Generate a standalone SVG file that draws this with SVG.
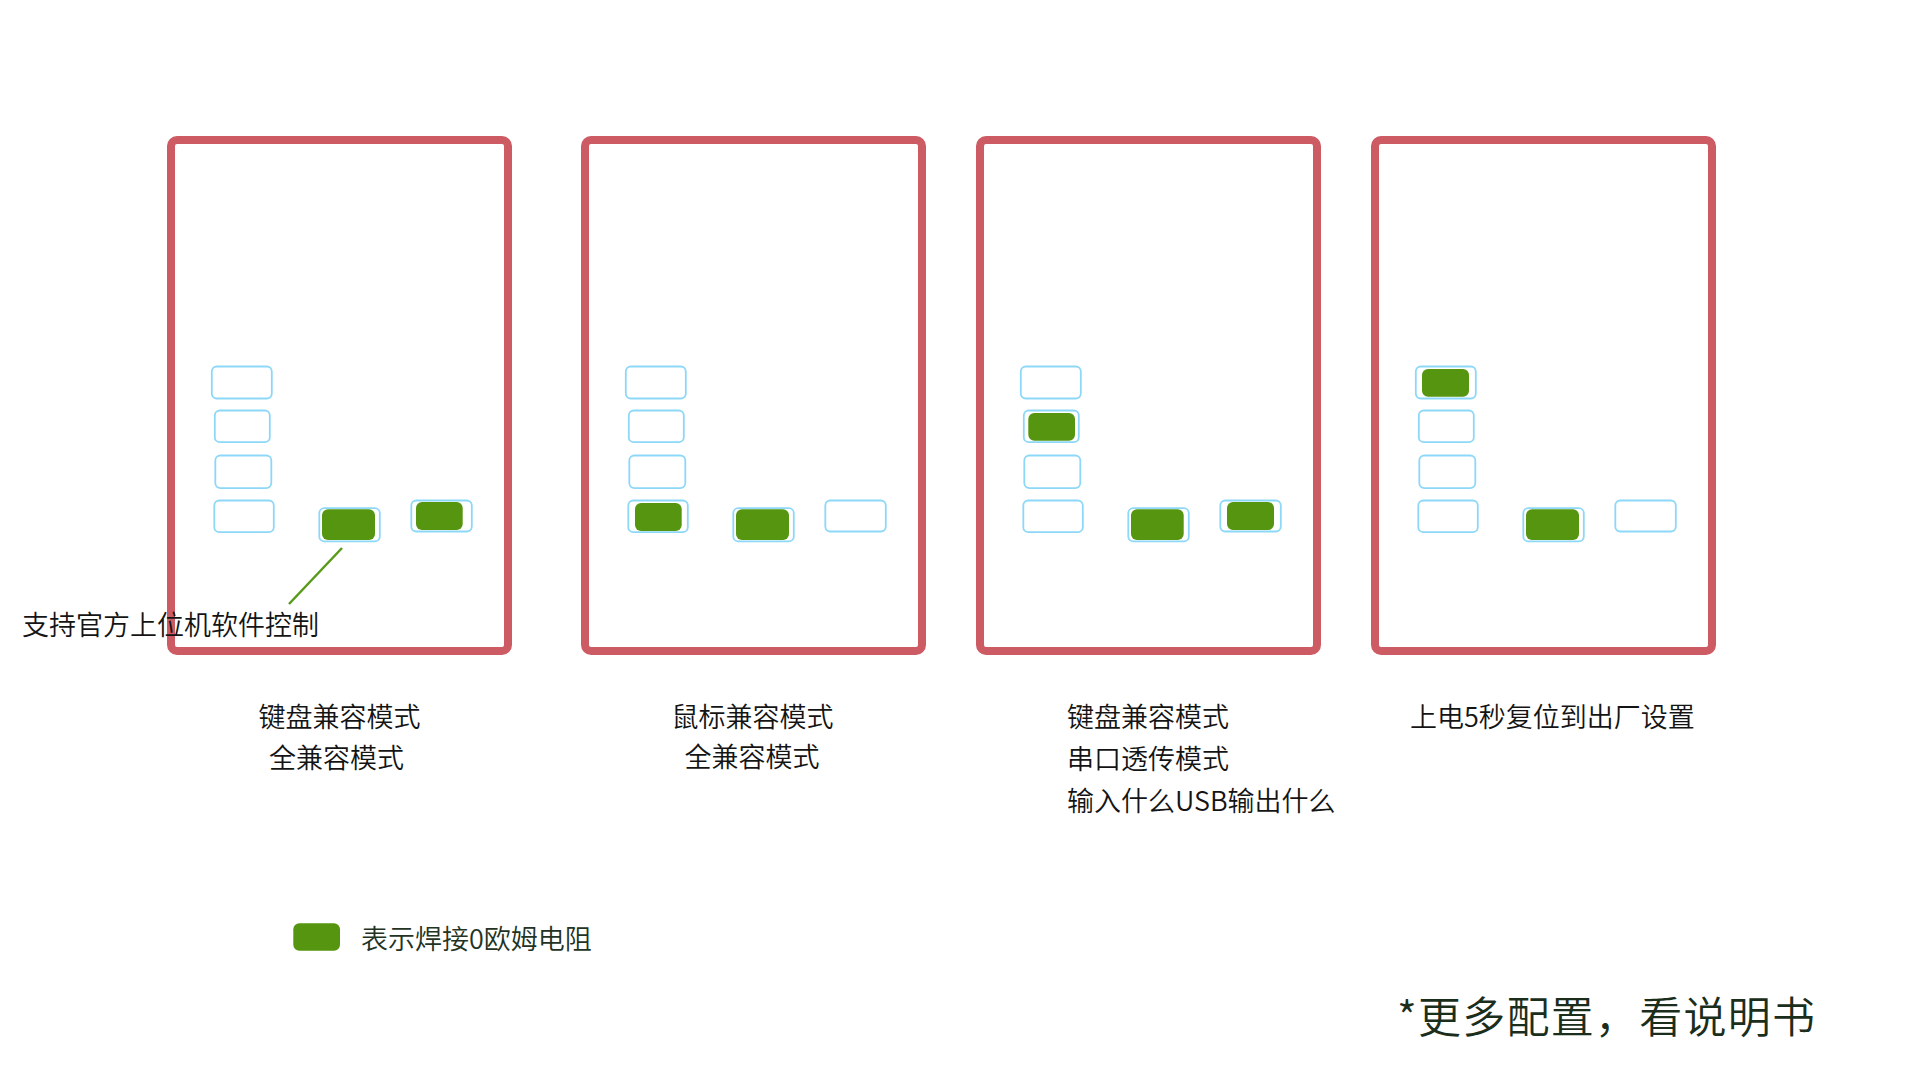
<svg xmlns="http://www.w3.org/2000/svg" width="1920" height="1080" viewBox="0 0 1920 1080">
<defs>
<style>
.board{fill:none;stroke:#cd5b63;stroke-width:8}
.pad{fill:#ffffff;stroke:#8dd8f8;stroke-width:1.8}
.on{fill:#56950f}
.t{font-family:"Noto Sans CJK SC","Noto Sans",sans-serif;font-size:27px;font-weight:350;fill:#141414}
.mid{text-anchor:middle}
.leg{font-family:"Noto Sans CJK SC","Noto Sans",sans-serif;font-size:27px;font-weight:350;fill:#233323}
.foot{font-family:"Noto Sans CJK SC","Noto Sans",sans-serif;font-size:43px;font-weight:350;fill:#1b2e1b}
.lead{stroke:#5a9a1a;stroke-width:2.5;fill:none}
</style>
</defs>
<rect width="1920" height="1080" fill="#ffffff"/>

<g id="panel-1">
<rect class="board" x="171" y="140" width="337" height="511" rx="6"/>
<rect class="pad" x="211.8" y="366.5" width="60" height="32" rx="5"/>
<rect class="pad" x="214.8" y="410.5" width="55" height="31.7" rx="5"/>
<rect class="pad" x="215.3" y="455.5" width="56" height="32.6" rx="5"/>
<rect class="pad" x="214.3" y="500.5" width="59.5" height="31.7" rx="5"/>
<rect class="pad" x="319.3" y="508.1" width="60.5" height="33.3" rx="5"/>
<rect class="pad" x="411.3" y="500.5" width="60.5" height="31" rx="5"/>
<rect class="on" x="322" y="509.3" width="53" height="30.7" rx="6"/>
<rect class="on" x="416" y="502" width="46.7" height="28" rx="6"/>
</g>

<g id="panel-2">
<rect class="board" x="585" y="140" width="337" height="511" rx="6"/>
<rect class="pad" x="625.8" y="366.5" width="60" height="32" rx="5"/>
<rect class="pad" x="628.8" y="410.5" width="55" height="31.7" rx="5"/>
<rect class="pad" x="629.3" y="455.5" width="56" height="32.6" rx="5"/>
<rect class="pad" x="628.3" y="500.5" width="59.5" height="31.7" rx="5"/>
<rect class="pad" x="733.3" y="508.1" width="60.5" height="33.3" rx="5"/>
<rect class="pad" x="825.3" y="500.5" width="60.5" height="31" rx="5"/>
<rect class="on" x="635" y="503" width="46.7" height="28" rx="6"/>
<rect class="on" x="736" y="509.3" width="53" height="30.7" rx="6"/>
</g>

<g id="panel-3">
<rect class="board" x="980" y="140" width="337" height="511" rx="6"/>
<rect class="pad" x="1020.8" y="366.5" width="60" height="32" rx="5"/>
<rect class="pad" x="1023.8" y="410.5" width="55" height="31.7" rx="5"/>
<rect class="pad" x="1024.3" y="455.5" width="56" height="32.6" rx="5"/>
<rect class="pad" x="1023.3" y="500.5" width="59.5" height="31.7" rx="5"/>
<rect class="pad" x="1128.3" y="508.1" width="60.5" height="33.3" rx="5"/>
<rect class="pad" x="1220.3" y="500.5" width="60.5" height="31" rx="5"/>
<rect class="on" x="1028.3" y="413" width="46.7" height="27.7" rx="6"/>
<rect class="on" x="1131" y="509.3" width="52.7" height="30.7" rx="6"/>
<rect class="on" x="1227" y="502" width="47" height="28" rx="6"/>
</g>

<g id="panel-4">
<rect class="board" x="1375" y="140" width="337" height="511" rx="6"/>
<rect class="pad" x="1415.8" y="366.5" width="60" height="32" rx="5"/>
<rect class="pad" x="1418.8" y="410.5" width="55" height="31.7" rx="5"/>
<rect class="pad" x="1419.3" y="455.5" width="56" height="32.6" rx="5"/>
<rect class="pad" x="1418.3" y="500.5" width="59.5" height="31.7" rx="5"/>
<rect class="pad" x="1523.3" y="508.1" width="60.5" height="33.3" rx="5"/>
<rect class="pad" x="1615.3" y="500.5" width="60.5" height="31" rx="5"/>
<rect class="on" x="1422" y="369" width="47" height="27.7" rx="6"/>
<rect class="on" x="1526" y="509.3" width="53" height="30.7" rx="6"/>
</g>

<g id="connectors">
<line class="lead" x1="342" y1="548" x2="289" y2="604"/>
</g>

<g id="note-software">
<text class="t" x="22" y="635">支持官方上位机软件控制</text>
</g>

<g id="label-1">
<text class="t mid" x="339.5" y="727">键盘兼容模式</text>
<text class="t mid" x="336.5" y="768">全兼容模式</text>
</g>

<g id="label-2">
<text class="t mid" x="752.5" y="727">鼠标兼容模式</text>
<text class="t mid" x="752" y="767">全兼容模式</text>
</g>

<g id="label-3">
<text class="t" x="1067" y="727">键盘兼容模式</text>
<text class="t" x="1067" y="769">串口透传模式</text>
<text class="t" x="1067" y="811">输入什么USB输出什么</text>
</g>

<g id="label-4">
<text class="t" x="1410" y="727">上电5秒复位到出厂设置</text>
</g>

<g id="legend">
<rect class="on" x="293.3" y="923.3" width="46.7" height="27.4" rx="6"/>
<text class="leg" x="361" y="949">表示焊接0欧姆电阻</text>
</g>

<g id="footnote">
<text class="foot" x="1397" y="1033" textLength="418">*更多配置，看说明书</text>
</g>
</svg>
